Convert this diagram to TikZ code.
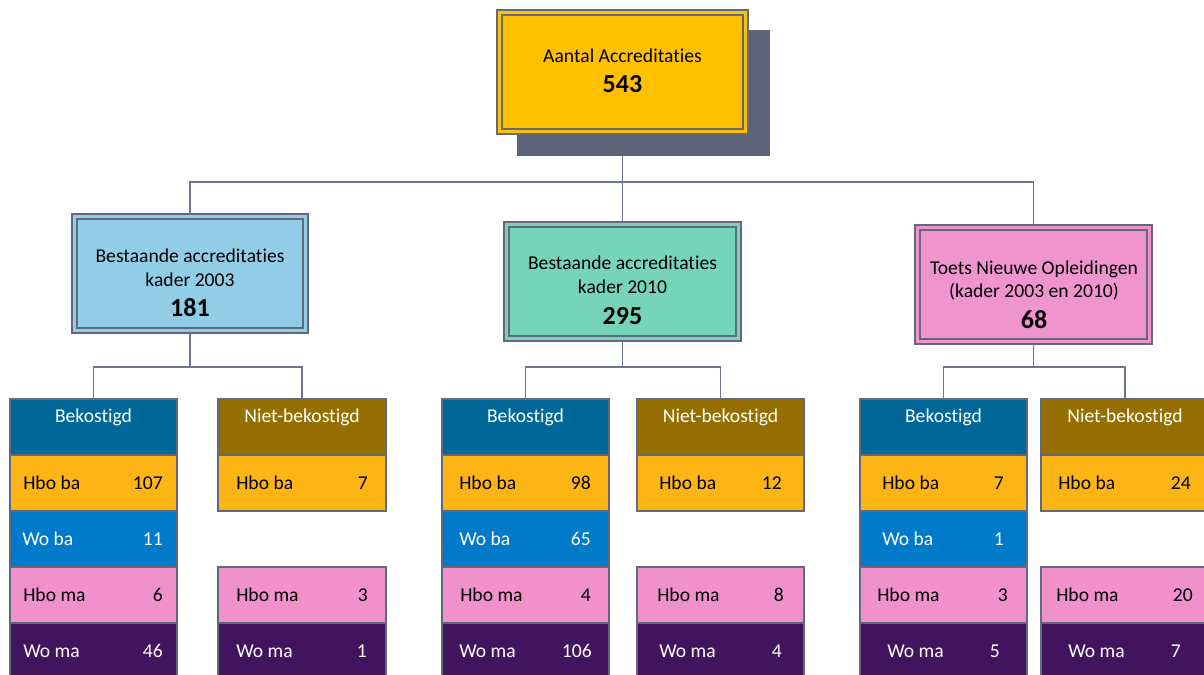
\documentclass[tikz,border=0pt]{standalone}
\usepackage{fontspec}
\setmainfont{Carlito}[Ligatures=NoCommon]
\definecolor{bordc}{RGB}{98,105,126}
\definecolor{linec}{RGB}{110,117,138}
\definecolor{shadc}{RGB}{92,99,119}
\definecolor{topc}{RGB}{255,192,0}
\definecolor{blueboxc}{RGB}{146,205,232}
\definecolor{tealc}{RGB}{118,212,184}
\definecolor{pinkboxc}{RGB}{240,148,205}
\definecolor{bekc}{RGB}{0,103,153}
\definecolor{nietc}{RGB}{149,112,0}
\definecolor{hbobac}{RGB}{253,180,21}
\definecolor{wobac}{RGB}{0,122,201}
\definecolor{hbomac}{RGB}{240,145,204}
\definecolor{womac}{RGB}{67,20,94}
\tikzset{
  x=0.75pt, y=-0.75pt,
  conn/.style={draw=linec, line width=0.8pt},
  bigbox/.style={draw=bordc, line width=1.2pt, anchor=north west, inner sep=0pt, outer sep=0pt},
  innerframe/.style={draw=bordc, line width=1.1pt},
  txt/.style={inner sep=0pt, font=\fontsize{14.7}{18}\selectfont},
  bignum/.style={inner sep=0pt, font=\fontsize{19.5}{22}\selectfont\bfseries},
  cellbox/.style={draw=bordc, line width=0.9pt, anchor=north west, inner sep=0pt, outer sep=0pt, minimum height=42pt},
  hdr/.style={cellbox, text=white},
  bek/.style={fill=bekc},
  niet/.style={fill=nietc},
  hboba/.style={fill=hbobac},
  woba/.style={fill=wobac},
  hboma/.style={fill=hbomac},
  woma/.style={fill=womac},
  blk/.style={text=black},
  wht/.style={text=white},
}
% #1 name, #2 x, #3 y, #4 width, #5 fill style, #6 text style, #7 label, #8 number, #9 label x, #10 number right x
\newcommand\orgcell[9]{%
  \node[cellbox,#5,minimum width=#4] (#1) at (#2,#3) {};
  \orgcellrest{#1}{#3}{#6}{#7}{#8}{#9}}
\newcommand\orgcellrest[7]{%
  \node[txt,#3,anchor=base west] (#1l) at (#6,#2+34.5) {#4};
  \node[txt,#3,anchor=base east] (#1n) at (#7,#2+34.5) {#5};}
\begin{document}
\begin{tikzpicture}
\useasboundingbox (0,0) rectangle (1204,675);

% ---- top box with shadow
\fill[shadc] (517,30) rectangle (770,156);
\node[bigbox, fill=topc, minimum width=188.25pt, minimum height=93pt] (top) at (497,10) {};
\draw[innerframe] ([shift={(5,5)}]top.north west) rectangle ([shift={(-5,-5)}]top.south east);
\node[txt, anchor=base] (topt) at (622.5,62.5) {Aantal Accreditaties};
\node[bignum, anchor=base] (topn) at (622.5,92) {543};

% ---- second level boxes
\node[bigbox, fill=blueboxc, minimum width=177pt, minimum height=89.25pt] (b1) at (72,214) {};
\draw[innerframe] ([shift={(5,5)}]b1.north west) rectangle ([shift={(-5,-5)}]b1.south east);
\node[txt, anchor=base] (b1a) at (190,262.5) {Bestaande accreditaties};
\node[txt, anchor=base] (b1b) at (190,286.5) {kader 2003};
\node[bignum, anchor=base] (b1n) at (190,316) {181};

\node[bigbox, fill=tealc, minimum width=177.75pt, minimum height=89.25pt] (b2) at (504,222) {};
\draw[innerframe] ([shift={(5,5)}]b2.north west) rectangle ([shift={(-5,-5)}]b2.south east);
\node[txt, anchor=base] (b2a) at (622.5,269.5) {Bestaande accreditaties};
\node[txt, anchor=base] (b2b) at (622.5,293.5) {kader 2010};
\node[bignum, anchor=base] (b2n) at (622.5,324) {295};

\node[bigbox, fill=pinkboxc, minimum width=177.75pt, minimum height=89.25pt] (b3) at (915,225) {};
\draw[innerframe] ([shift={(5,5)}]b3.north west) rectangle ([shift={(-5,-5)}]b3.south east);
\node[txt, anchor=base] (b3a) at (1034,274.5) {Toets Nieuwe Opleidingen};
\node[txt, anchor=base] (b3b) at (1034,297.5) {(kader 2003 en 2010)};
\node[bignum, anchor=base] (b3n) at (1034,328) {68};

% ---- connectors level 1
\coordinate (shb) at ([shift={(0,22)}]top.south);
\coordinate (hub) at (top.south |- 0,182);
\draw[conn] (shb) -- (hub);
\draw[conn] (hub) -| (b1.north);
\draw[conn] (hub) -| (b3.north);
\draw[conn] (hub) -| (b2.north);

% ---- headers
\node[hdr,bek,minimum width=125.25pt] (h1) at (10,399) {};
\node[txt,text=white,anchor=base] (h1t) at (h1.north |- 0,422.5) {Bekostigd};
\node[hdr,niet,minimum width=126pt] (h2) at (218,399) {};
\node[txt,text=white,anchor=base] (h2t) at (h2.north |- 0,422.5) {Niet-bekostigd};
\node[hdr,bek,minimum width=125.25pt] (h3) at (442,399) {};
\node[txt,text=white,anchor=base] (h3t) at (h3.north |- 0,422.5) {Bekostigd};
\node[hdr,niet,minimum width=125.25pt] (h4) at (637,399) {};
\node[txt,text=white,anchor=base] (h4t) at (h4.north |- 0,422.5) {Niet-bekostigd};
\node[hdr,bek,minimum width=125.25pt] (h5) at (860,399) {};
\node[txt,text=white,anchor=base] (h5t) at (h5.north |- 0,422.5) {Bekostigd};
\node[hdr,niet,minimum width=126pt] (h6) at (1041,399) {};
\node[txt,text=white,anchor=base] (h6t) at (h6.north |- 0,422.5) {Niet-bekostigd};

% ---- connectors level 2
\coordinate (hub1) at (b1.south |- 0,367);
\coordinate (hub2) at (b2.south |- 0,367);
\coordinate (hub3) at (b3.south |- 0,367);
\draw[conn] (b1.south) -- (hub1);
\draw[conn] (hub1) -| (h1.north);
\draw[conn] (hub1) -| (h2.north);
\draw[conn] (b2.south) -- (hub2);
\draw[conn] (hub2) -| (h3.north);
\draw[conn] (hub2) -| (h4.north);
\draw[conn] (b3.south) -- (hub3);
\draw[conn] (hub3) -| (h5.north);
\draw[conn] (hub3) -| (h6.north);

% ---- left group
\orgcell{c11}{10}{455}{125.25pt}{hboba}{blk}{Hbo ba}{107}{23}{163}
\orgcell{c12}{10}{511}{125.25pt}{woba}{wht}{Wo ba}{11}{22}{163}
\orgcell{c13}{10}{567}{125.25pt}{hboma}{blk}{Hbo ma}{6}{23}{163}
\orgcell{c14}{10}{623}{125.25pt}{woma}{wht}{Wo ma}{46}{23}{163}
\orgcell{c21}{218}{455}{126pt}{hboba}{blk}{Hbo ba}{7}{236}{368}
\orgcell{c23}{218}{567}{126pt}{hboma}{blk}{Hbo ma}{3}{236}{368}
\orgcell{c24}{218}{623}{126pt}{woma}{wht}{Wo ma}{1}{236}{367}

% ---- middle group
\orgcell{c31}{442}{455}{125.25pt}{hboba}{blk}{Hbo ba}{98}{459}{591}
\orgcell{c32}{442}{511}{125.25pt}{woba}{wht}{Wo ba}{65}{459}{591}
\orgcell{c33}{442}{567}{125.25pt}{hboma}{blk}{Hbo ma}{4}{460}{591}
\orgcell{c34}{442}{623}{125.25pt}{woma}{wht}{Wo ma}{106}{459}{592}
\orgcell{c41}{637}{455}{125.25pt}{hboba}{blk}{Hbo ba}{12}{659}{782}
\orgcell{c43}{637}{567}{125.25pt}{hboma}{blk}{Hbo ma}{8}{657}{784}
\orgcell{c44}{637}{623}{125.25pt}{woma}{wht}{Wo ma}{4}{659}{782}

% ---- right group
\orgcell{c51}{860}{455}{125.25pt}{hboba}{blk}{Hbo ba}{7}{882}{1004}
\orgcell{c52}{860}{511}{125.25pt}{woba}{wht}{Wo ba}{1}{882}{1004}
\orgcell{c53}{860}{567}{125.25pt}{hboma}{blk}{Hbo ma}{3}{877}{1008}
\orgcell{c54}{860}{623}{125.25pt}{woma}{wht}{Wo ma}{5}{887}{1000}
\orgcell{c61}{1041}{455}{126pt}{hboba}{blk}{Hbo ba}{24}{1058}{1191}
\orgcell{c63}{1041}{567}{126pt}{hboma}{blk}{Hbo ma}{20}{1056}{1193}
\orgcell{c64}{1041}{623}{126pt}{woma}{wht}{Wo ma}{7}{1068}{1181}
\end{tikzpicture}
\end{document}
